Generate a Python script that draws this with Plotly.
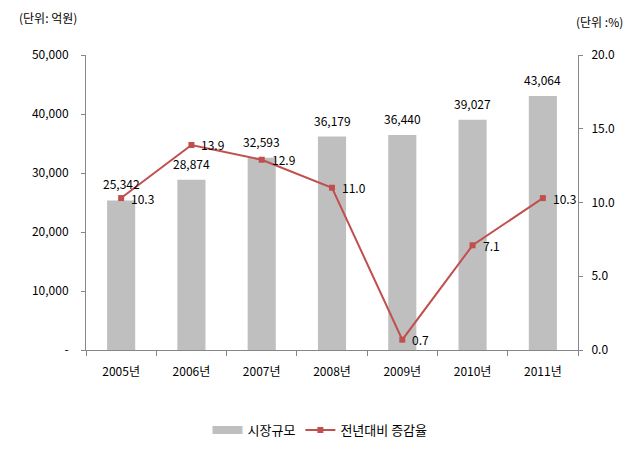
import plotly.graph_objects as go

years = ["2005년", "2006년", "2007년", "2008년", "2009년", "2010년", "2011년"]
market_size = [25342, 28874, 32593, 36179, 36440, 39027, 43064]
growth_rate = [10.3, 13.9, 12.9, 11.0, 0.7, 7.1, 10.3]

left_ticks = [0, 10000, 20000, 30000, 40000, 50000]
left_ticktext = ["-", "10,000", "20,000", "30,000", "40,000", "50,000"]
right_ticks = [0, 5, 10, 15, 20]
right_ticktext = ["0.0", "5.0", "10.0", "15.0", "20.0"]

font = "Noto Sans CJK KR, Malgun Gothic, sans-serif"
bar_color = "#BFBFBF"
line_color = "#C0504D"

fig = go.Figure()
fig.add_trace(go.Bar(
    x=years, y=market_size, name="시장규모",
    marker=dict(color=bar_color, line=dict(width=0)),
    width=0.4, showlegend=False,
))
# legend-only entry so the bar legend key is a wide grey strip like the original
fig.add_trace(go.Scatter(
    x=[None], y=[None], name="시장규모", mode="lines",
    line=dict(color=bar_color, width=8),
))
fig.add_trace(go.Scatter(
    x=years, y=growth_rate, name="전년대비 증감율", yaxis="y2",
    mode="lines+markers",
    line=dict(color=line_color, width=2),
    marker=dict(symbol="square", size=6, color=line_color),
    cliponaxis=False,
))

annotations = []
for yr, v in zip(years, market_size):
    annotations.append(dict(x=yr, y=v, xref="x", yref="y", text=f"{v:,}",
                            showarrow=False, yanchor="bottom", yshift=6,
                            font=dict(size=12, color="#000000")))
for yr, v in zip(years, growth_rate):
    annotations.append(dict(x=yr, y=v, xref="x", yref="y2", text=f"{v:.1f}",
                            showarrow=False, xanchor="left", yanchor="middle", xshift=8,
                            font=dict(size=12, color="#000000")))

pw, ph = 641 - 86 - 63, 449 - 55 - 99
annotations.append(dict(text="(단위: 억원)", x=(17 - 86) / pw, y=(350 - 18) / ph,
                        xref="paper", yref="paper", showarrow=False,
                        xanchor="left", yanchor="middle", font=dict(size=12)))
annotations.append(dict(text="(단위 :%)", x=(574 - 86) / pw, y=(350 - 22) / ph,
                        xref="paper", yref="paper", showarrow=False,
                        xanchor="left", yanchor="middle", font=dict(size=12)))

fig.update_layout(
    width=641, height=449,
    margin=dict(l=86, r=63, t=55, b=99, autoexpand=False),
    paper_bgcolor="white", plot_bgcolor="white",
    font=dict(family=font, size=12, color="#000000"),
    showlegend=True,
    legend=dict(orientation="h", x=(320 - 86) / pw, xanchor="center", y=(350 - 430) / ph,
                yanchor="middle", font=dict(size=13), traceorder="normal", itemwidth=30),
    xaxis=dict(showline=True, linecolor="#868686", linewidth=1,
               ticks="outside", tickson="boundaries", ticklen=5, tickcolor="#868686",
               showgrid=False, tickfont=dict(size=12), ticklabelstandoff=11),
    yaxis=dict(range=[0, 50000], tickvals=left_ticks, ticktext=left_ticktext,
               showline=True, linecolor="#868686", linewidth=1,
               ticks="outside", ticklen=4, tickcolor="#868686",
               showgrid=False, zeroline=False, ticklabelstandoff=10),
    yaxis2=dict(range=[0, 20], tickvals=right_ticks, ticktext=right_ticktext,
                overlaying="y", side="right",
                showline=True, linecolor="#868686", linewidth=1,
                ticks="outside", ticklen=4, tickcolor="#868686",
                showgrid=False, zeroline=False, ticklabelstandoff=6),
    annotations=annotations,
)

fig.write_html("out.html")
